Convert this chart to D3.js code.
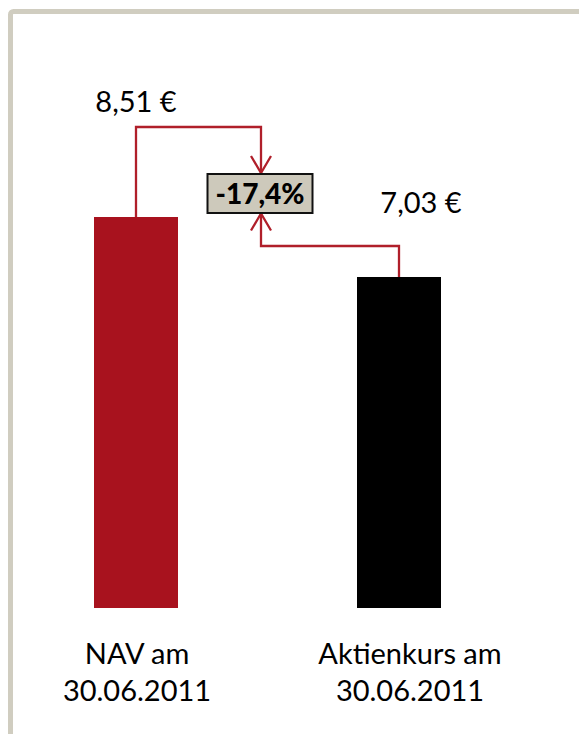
<!DOCTYPE html>
<html>
<head>
<meta charset="utf-8">
<script src="https://cdn.jsdelivr.net/npm/d3@7"></script>
<style>
  body { margin: 0; background: #fff; }
  text { font-family: Lato, "Open Sans", sans-serif; }
</style>
</head>
<body>
<div id="chart"></div>
<script>
// data
const categories = [["NAV am", "30.06.2011"], ["Aktienkurs am", "30.06.2011"]];
const values = [8.51, 7.03];
const valueLabels = ["8,51 €", "7,03 €"];
const changeLabel = "-17,4%";
const colors = ["#a8121e", "#000000"];

var width = 579, height = 734;

var svg = d3.select("#chart")
  .append("svg")
    .attr("width", width)
    .attr("height", height);

// frame
svg.append("rect")
  .attr("x", 10.5).attr("y", 11.5)
  .attr("width", 620).attr("height", 760)
  .attr("rx", 3)
  .attr("fill", "none")
  .attr("stroke", "#d0cdc0")
  .attr("stroke-width", 5);

var keys = categories.map(function(c) { return c.join(" "); });

var x = d3.scalePoint()
  .domain(keys)
  .range([136, 399]);

var y = d3.scaleLinear()
  .domain([-1.135, 8.51])
  .range([608, 217]);

var barW = 84;

svg.selectAll(".bar")
  .data(values)
  .enter().append("rect")
  .attr("class", "bar")
  .attr("x", function(d, i) { return x(keys[i]) - barW / 2; })
  .attr("y", function(d) { return y(d); })
  .attr("width", barW)
  .attr("height", function(d) { return y.range()[0] - y(d); })
  .attr("fill", function(d, i) { return colors[i]; });

// value labels
var labelDx = [0, 22], labelDy = [-105, -64];
svg.selectAll(".vlabel")
  .data(valueLabels)
  .enter().append("text")
  .attr("class", "vlabel")
  .attr("x", function(d, i) { return x(keys[i]) + labelDx[i]; })
  .attr("y", function(d, i) { return y(values[i]) + labelDy[i]; })
  .attr("text-anchor", "middle")
  .attr("font-size", 29)
  .attr("fill", "#000")
  .text(function(d) { return d; });

// category labels
var catDx = [1, 11];
var cat = svg.selectAll(".cat")
  .data(categories)
  .enter().append("text")
  .attr("class", "cat")
  .attr("text-anchor", "middle")
  .attr("font-size", 29)
  .attr("fill", "#000");

cat.selectAll("tspan")
  .data(function(d, i) { return d.map(function(t) { return {t: t, i: i}; }); })
  .enter().append("tspan")
  .attr("x", function(d) { return x(keys[d.i]) + catDx[d.i]; })
  .attr("y", function(d, j) { return 664 + j * 37; })
  .text(function(d) { return d.t; });

// arrows between the bars
var midX = 261;
var x0 = x(keys[0]), x1 = x(keys[1]);
var topY = y(values[0]) - 90;
var lowY = y(values[1]) - 31;
var boxTop = 173, boxBot = 213.5;
var arrowCol = "#b01f2a";

var line = d3.line();
var arrows = [
  [[x0, y(values[0])], [x0, topY], [midX, topY], [midX, boxTop]],
  [[x1, y(values[1])], [x1, lowY], [midX, lowY], [midX, boxBot]]
];
svg.selectAll(".arrow")
  .data(arrows)
  .enter().append("path")
  .attr("class", "arrow")
  .attr("d", line)
  .attr("fill", "none")
  .attr("stroke", arrowCol)
  .attr("stroke-width", 2.3);

// open arrow heads
var heads = [
  [[midX - 10, boxTop - 17], [midX, boxTop], [midX + 10, boxTop - 17]],
  [[midX - 10, boxBot + 17], [midX, boxBot], [midX + 10, boxBot + 17]]
];
svg.selectAll(".head")
  .data(heads)
  .enter().append("path")
  .attr("class", "head")
  .attr("d", line)
  .attr("fill", "none")
  .attr("stroke", arrowCol)
  .attr("stroke-width", 2.3);

// change box
svg.append("rect")
  .attr("x", 207.5).attr("y", 174)
  .attr("width", 105).attr("height", 39)
  .attr("fill", "#cdc9bb")
  .attr("stroke", "#111")
  .attr("stroke-width", 2);

svg.append("text")
  .attr("x", 260).attr("y", 204)
  .attr("text-anchor", "middle")
  .attr("font-size", 28)
  .attr("font-weight", 900)
  .attr("fill", "#000")
  .text(changeLabel);
</script>
</body>
</html>
